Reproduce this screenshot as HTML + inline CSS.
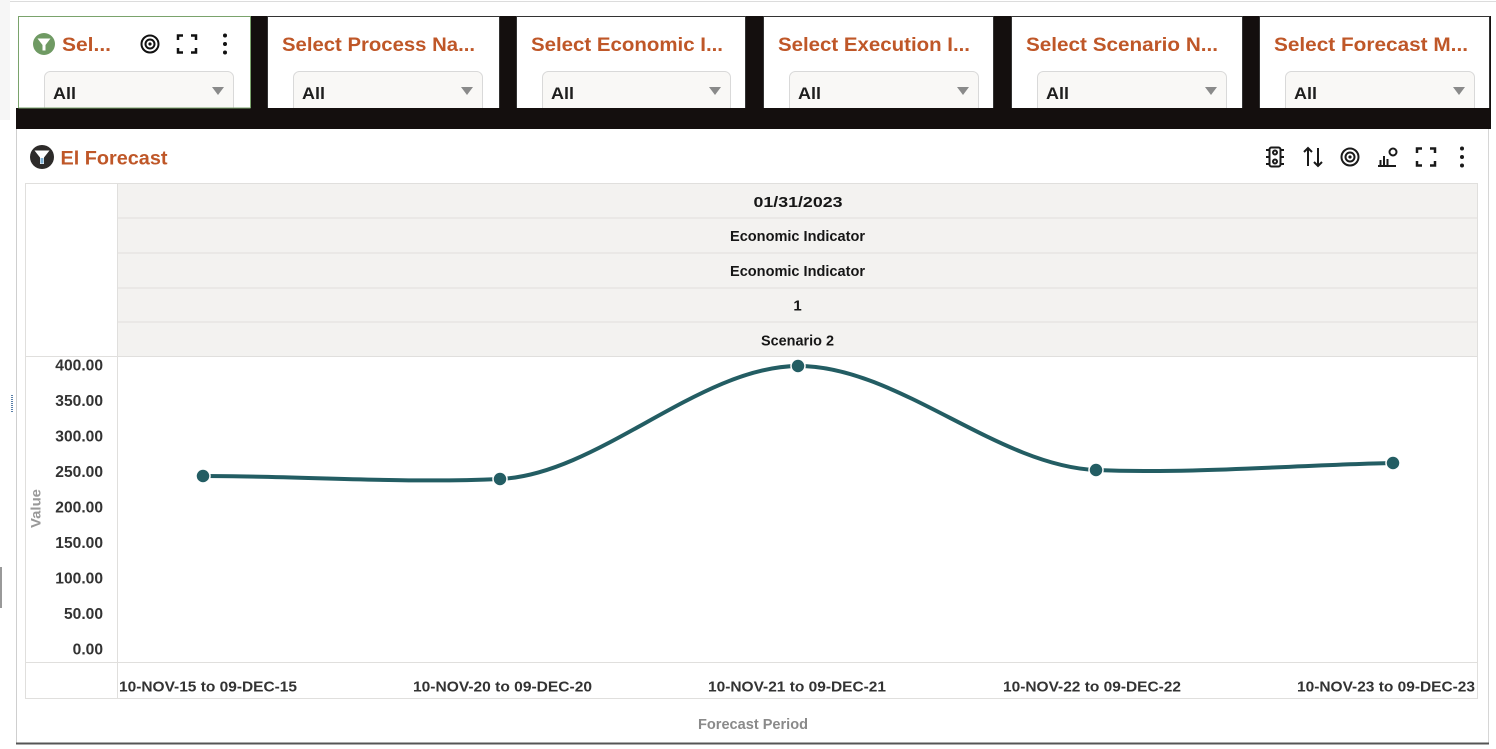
<!DOCTYPE html>
<html><head><meta charset="utf-8"><style>
html,body{margin:0;padding:0;background:#fff;width:1496px;height:749px;overflow:hidden}
svg{display:block}
text{font-family:"Liberation Sans",sans-serif;font-weight:bold}
</style></head><body>
<svg width="1496" height="749" viewBox="0 0 1496 749" xmlns="http://www.w3.org/2000/svg">
<rect x="0" y="0" width="1496" height="749" fill="#fff"/>
<line x1="0" y1="1.5" x2="1496" y2="1.5" stroke="#dcdcdc" stroke-width="1"/>
<rect x="0" y="0" width="10" height="120" fill="#f6f6f6"/>
<line x1="1" y1="567" x2="1" y2="608" stroke="#999" stroke-width="2"/>
<line x1="12" y1="395" x2="12" y2="412" stroke="#5a7fa8" stroke-width="2" stroke-dasharray="1,1"/>

<!-- black filter bar -->
<rect x="240" y="16" width="1251" height="113" fill="#140f0e"/>
<rect x="16" y="108" width="1475" height="21" fill="#140f0e"/>

<!-- filter boxes -->
<g>
<rect x="18.5" y="16.5" width="232" height="92" fill="#fff" stroke="#7aa36c" stroke-width="1"/>
<g fill="#fff" stroke="#333" stroke-width="1">
<rect x="267.5" y="16.5" width="232" height="92"/>
<rect x="516.5" y="16.5" width="229" height="92"/>
<rect x="763.5" y="16.5" width="230" height="92"/>
<rect x="1011.5" y="16.5" width="231" height="92"/>
<rect x="1259.5" y="16.5" width="230" height="92"/>
</g>
</g>
<!-- dropdowns -->
<g fill="#f9f8f6" stroke="#d9d9d9" stroke-width="1">
<rect x="44.5" y="71.5" width="189" height="50" rx="6"/>
<rect x="293.5" y="71.5" width="189" height="50" rx="6"/>
<rect x="542.5" y="71.5" width="188" height="50" rx="6"/>
<rect x="789.5" y="71.5" width="189" height="50" rx="6"/>
<rect x="1037.5" y="71.5" width="189" height="50" rx="6"/>
<rect x="1285.5" y="71.5" width="189" height="50" rx="6"/>
</g>
<rect x="16" y="108" width="1475" height="21" fill="#140f0e"/>
<line x1="18.5" y1="108" x2="250.5" y2="108" stroke="#7aa36c" stroke-width="1"/>

<g fill="#1e1e1e" font-size="17">
<text x="53" y="99" textLength="23" lengthAdjust="spacingAndGlyphs">All</text>
<text x="302" y="99" textLength="23" lengthAdjust="spacingAndGlyphs">All</text>
<text x="551" y="99" textLength="23" lengthAdjust="spacingAndGlyphs">All</text>
<text x="798" y="99" textLength="23" lengthAdjust="spacingAndGlyphs">All</text>
<text x="1046" y="99" textLength="23" lengthAdjust="spacingAndGlyphs">All</text>
<text x="1294" y="99" textLength="23" lengthAdjust="spacingAndGlyphs">All</text>
</g>
<g fill="#8a8a8a">
<polygon points="212,87 224,87 218,95"/>
<polygon points="461,87 473,87 467,95"/>
<polygon points="709,87 721,87 715,95"/>
<polygon points="957,87 969,87 963,95"/>
<polygon points="1205,87 1217,87 1211,95"/>
<polygon points="1453,87 1465,87 1459,95"/>
</g>

<g fill="#bf5728" font-size="19.5">
<text x="62" y="51" textLength="49" lengthAdjust="spacingAndGlyphs">Sel...</text>
<text x="282" y="51" textLength="193" lengthAdjust="spacingAndGlyphs">Select Process Na...</text>
<text x="531" y="51" textLength="192" lengthAdjust="spacingAndGlyphs">Select Economic I...</text>
<text x="778" y="51" textLength="192" lengthAdjust="spacingAndGlyphs">Select Execution I...</text>
<text x="1026" y="51" textLength="192" lengthAdjust="spacingAndGlyphs">Select Scenario N...</text>
<text x="1274" y="51" textLength="194" lengthAdjust="spacingAndGlyphs">Select Forecast M...</text>
</g>

<!-- box1 icons -->
<circle cx="44" cy="44" r="11" fill="#6f9a63"/>
<path d="M37.5,38.5 L50.5,38.5 L45.5,45 L45.5,50.5 L42.5,50.5 L42.5,45 Z" fill="#fff"/>
<g fill="none" stroke="#111" stroke-width="2">
<circle cx="150" cy="44" r="8.5"/>
<circle cx="150" cy="44" r="4.5"/>
</g>
<circle cx="150" cy="44" r="1.6" fill="#111"/>
<g fill="none" stroke="#111" stroke-width="2.5">
<path d="M178,40 V35.5 H183 M191,35.5 H196 V40 M196,48 V52.5 H191 M183,52.5 H178 V48"/>
</g>
<g fill="#111"><circle cx="225" cy="35.5" r="2"/><circle cx="225" cy="44" r="2"/><circle cx="225" cy="52.5" r="2"/></g>

<!-- main panel -->
<line x1="16.5" y1="129" x2="16.5" y2="743" stroke="#cfcfcf" stroke-width="1"/>
<line x1="1488.5" y1="129" x2="1488.5" y2="743" stroke="#d6d6d6" stroke-width="1"/>
<line x1="16" y1="743.5" x2="1489" y2="743.5" stroke="#555" stroke-width="2"/>

<circle cx="42" cy="157" r="12" fill="#2d2b2a"/>
<path d="M34.5,150.5 L49.5,150.5 L44,157.5 L44,164 L40,164 L40,157.5 Z" fill="#fff"/>
<path d="M40.5,158 L43.5,158 L43.5,163.5 L40.5,163.5 Z" fill="#7fb2d6"/>
<text x="60.5" y="164.5" font-size="19.5" fill="#bf5728" textLength="107" lengthAdjust="spacingAndGlyphs">El Forecast</text>

<!-- right icons -->
<g fill="none" stroke="#1a1a1a" stroke-width="2">
<rect x="1269.5" y="147.5" width="11" height="19" rx="2"/>
<circle cx="1275" cy="152.5" r="2"/>
<circle cx="1275" cy="161.5" r="2"/>
<path d="M1269.5,150 H1266 M1269.5,157 H1266 M1269.5,164 H1266 M1280.5,150 H1284 M1280.5,157 H1284 M1280.5,164 H1284"/>
<path d="M1308,166 V148 M1304,152 L1308,148 L1312,152 M1318,148 V166 M1314,162 L1318,166 L1322,162"/>
<circle cx="1350" cy="157" r="8.5"/>
<circle cx="1350" cy="157" r="4.5"/>
<path d="M1378,166 H1396 M1380.5,166 V160 M1384,166 V156 M1387.5,166 V159"/>
<circle cx="1393" cy="152" r="3.5"/>
</g>
<circle cx="1350" cy="157" r="1.6" fill="#1a1a1a"/>
<g fill="none" stroke="#1a1a1a" stroke-width="2.5">
<path d="M1417,153 V148.5 H1422 M1430,148.5 H1435 V153 M1435,161 V165.5 H1430 M1422,165.5 H1417 V161"/>
</g>
<g fill="#1a1a1a"><circle cx="1462" cy="148.5" r="2"/><circle cx="1462" cy="157" r="2"/><circle cx="1462" cy="165.5" r="2"/></g>

<!-- table grid -->
<rect x="118" y="183" width="1359" height="173" fill="#f3f2f0"/>
<g stroke="#e0dfdd" stroke-width="1" fill="none">
<rect x="25.5" y="183.5" width="1452" height="515"/>
<line x1="118" y1="218" x2="1477" y2="218"/>
<line x1="118" y1="253" x2="1477" y2="253"/>
<line x1="118" y1="288" x2="1477" y2="288"/>
<line x1="118" y1="322" x2="1477" y2="322"/>
<line x1="25" y1="356.5" x2="1477" y2="356.5"/>
<line x1="25" y1="662.5" x2="1477" y2="662.5"/>
<line x1="117.5" y1="183" x2="117.5" y2="698"/>
</g>

<g fill="#161616" font-size="15" text-anchor="middle">
<text x="798" y="207" textLength="89" lengthAdjust="spacingAndGlyphs">01/31/2023</text>
<text x="797.5" y="241" textLength="135" lengthAdjust="spacingAndGlyphs">Economic Indicator</text>
<text x="797.5" y="276" textLength="135" lengthAdjust="spacingAndGlyphs">Economic Indicator</text>
<text x="797.5" y="310.5">1</text>
<text x="797.5" y="345.5" textLength="73" lengthAdjust="spacingAndGlyphs">Scenario 2</text>
</g>

<!-- y labels -->
<g fill="#333" font-size="15.6" text-anchor="end">
<text x="103" y="370.5">400.00</text>
<text x="103" y="406">350.00</text>
<text x="103" y="441.5">300.00</text>
<text x="103" y="477">250.00</text>
<text x="103" y="512.5">200.00</text>
<text x="103" y="548">150.00</text>
<text x="103" y="583.5">100.00</text>
<text x="103" y="619">50.00</text>
<text x="103" y="654.5">0.00</text>
</g>
<text transform="translate(40.5,508.5) rotate(-90)" text-anchor="middle" font-size="14" fill="#999" textLength="39" lengthAdjust="spacingAndGlyphs">Value</text>

<!-- x labels -->
<g fill="#333" font-size="15">
<text x="119" y="691.5" textLength="178" lengthAdjust="spacingAndGlyphs">10-NOV-15 to 09-DEC-15</text>
<text x="413" y="691.5" textLength="179" lengthAdjust="spacingAndGlyphs">10-NOV-20 to 09-DEC-20</text>
<text x="708" y="691.5" textLength="178" lengthAdjust="spacingAndGlyphs">10-NOV-21 to 09-DEC-21</text>
<text x="1003" y="691.5" textLength="178" lengthAdjust="spacingAndGlyphs">10-NOV-22 to 09-DEC-22</text>
<text x="1297" y="691.5" textLength="178" lengthAdjust="spacingAndGlyphs">10-NOV-23 to 09-DEC-23</text>
</g>
<text x="753" y="729" text-anchor="middle" font-size="14.5" fill="#8a8a8a" textLength="110" lengthAdjust="spacingAndGlyphs">Forecast Period</text>

<!-- series -->
<path d="M203,476 C302,476 401,483.5 500,479 C599,474.4 699,366.4 798,366 C897,365.6 997,466 1096,470 C1195,474 1294,465 1393,463" fill="none" stroke="#235d63" stroke-width="4" stroke-linecap="round"/>
<g fill="#235d63" stroke="#fff" stroke-width="1.5">
<circle cx="203" cy="476" r="7"/>
<circle cx="500" cy="479" r="7"/>
<circle cx="798" cy="366" r="7"/>
<circle cx="1096" cy="470" r="7"/>
<circle cx="1393" cy="463" r="7"/>
</g>
</svg>
</body></html>
